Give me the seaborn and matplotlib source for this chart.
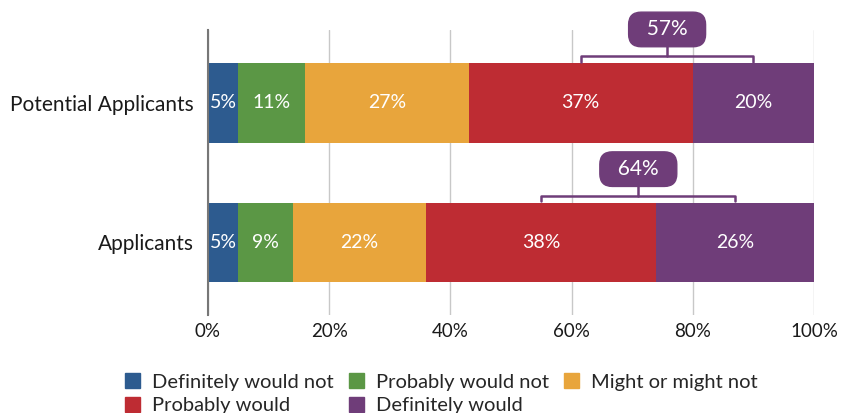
import matplotlib
matplotlib.use("Agg")
import matplotlib.pyplot as plt
import seaborn as sns
import pandas as pd
from matplotlib.patches import Patch

groups = ["Potential Applicants", "Applicants"]
responses = ["Definitely would not", "Probably would not", "Might or might not",
             "Probably would", "Definitely would"]
colors = ["#2D5B8F", "#5B9745", "#E8A53C", "#BE2C33", "#6F3D79"]
values = {
    "Potential Applicants": [5, 11, 27, 37, 20],
    "Applicants": [5, 9, 22, 38, 26],
}
totals = ["57%", "64%"]

sns.set_theme(style="white")
plt.rcParams["font.family"] = ["Lato", "DejaVu Sans"]

fig = plt.figure(figsize=(8.41, 4.13), dpi=100)
ax = fig.add_axes([0.2473, 0.237, 0.7207, 0.69])

df = pd.DataFrame(values, index=responses).T
cum = df.cumsum(axis=1)

# stacked by overdrawing cumulative totals, widest first
for i in range(len(responses) - 1, -1, -1):
    sns.barplot(x=cum.iloc[:, i].values, y=groups, orient="h", color=colors[i],
                width=0.57, saturation=1, ax=ax, order=groups, linewidth=0,
                edgecolor="none")

purple = colors[4]
for gi, g in enumerate(groups):
    v = df.loc[g].values
    c = cum.loc[g].values
    for k in range(len(responses)):
        ax.text(c[k] - v[k] / 2, gi, f"{v[k]}%", ha="center", va="center",
                color="white", fontsize=14)
    # bracket over the two "would" segments
    x0 = c[3] - v[3] / 2
    x1 = c[4] - v[4] / 2
    ytop = gi - 0.285
    yb = ytop - 0.05
    ax.plot([x0, x0, x1, x1], [ytop - 0.01, yb, yb, ytop - 0.01], color=purple,
            lw=1.8, clip_on=False, solid_joinstyle="round", solid_capstyle="round")
    xm = (x0 + x1) / 2
    ax.plot([xm, xm], [yb, yb - 0.08], color=purple, lw=1.8, clip_on=False)
    ax.text(xm, gi - 0.525, "  " + totals[gi] + "  ", ha="center", va="center",
            color="white", fontsize=15, clip_on=False,
            bbox=dict(boxstyle="round,pad=0.35,rounding_size=0.6", fc=purple,
                      ec=purple))

ax.set_xlim(0, 100)
ax.set_ylim(1.52, -0.52)
ax.set_xticks([0, 20, 40, 60, 80, 100])
ax.set_xticklabels(["0%", "20%", "40%", "60%", "80%", "100%"])
ax.xaxis.grid(True, color="#C8C8C8", lw=1)
ax.set_axisbelow(True)
for s in ["top", "right", "bottom"]:
    ax.spines[s].set_visible(False)
ax.spines["left"].set_color("#777777")
ax.spines["left"].set_linewidth(1.5)
ax.tick_params(axis="x", length=0, pad=6, labelsize=13.5, colors="#1a1a1a")
ax.tick_params(axis="y", length=0, pad=10, labelsize=15, colors="#1a1a1a")
ax.set_xlabel("")
ax.set_ylabel("")

# legend filled row by row
order = [0, 3, 1, 4, 2]
handles = [Patch(facecolor=colors[i], edgecolor=colors[i]) for i in order]
labels = [responses[i] for i in order]
fig.legend(handles, labels, loc="lower left", bbox_to_anchor=(125 / 841, -0.003),
           ncol=3, frameon=False, fontsize=14.5, handlelength=0.75, handleheight=0.75,
           handletextpad=0.6, columnspacing=0.75, labelspacing=0.3,
           borderpad=0, borderaxespad=0)

fig.savefig("out.png", dpi=100)
